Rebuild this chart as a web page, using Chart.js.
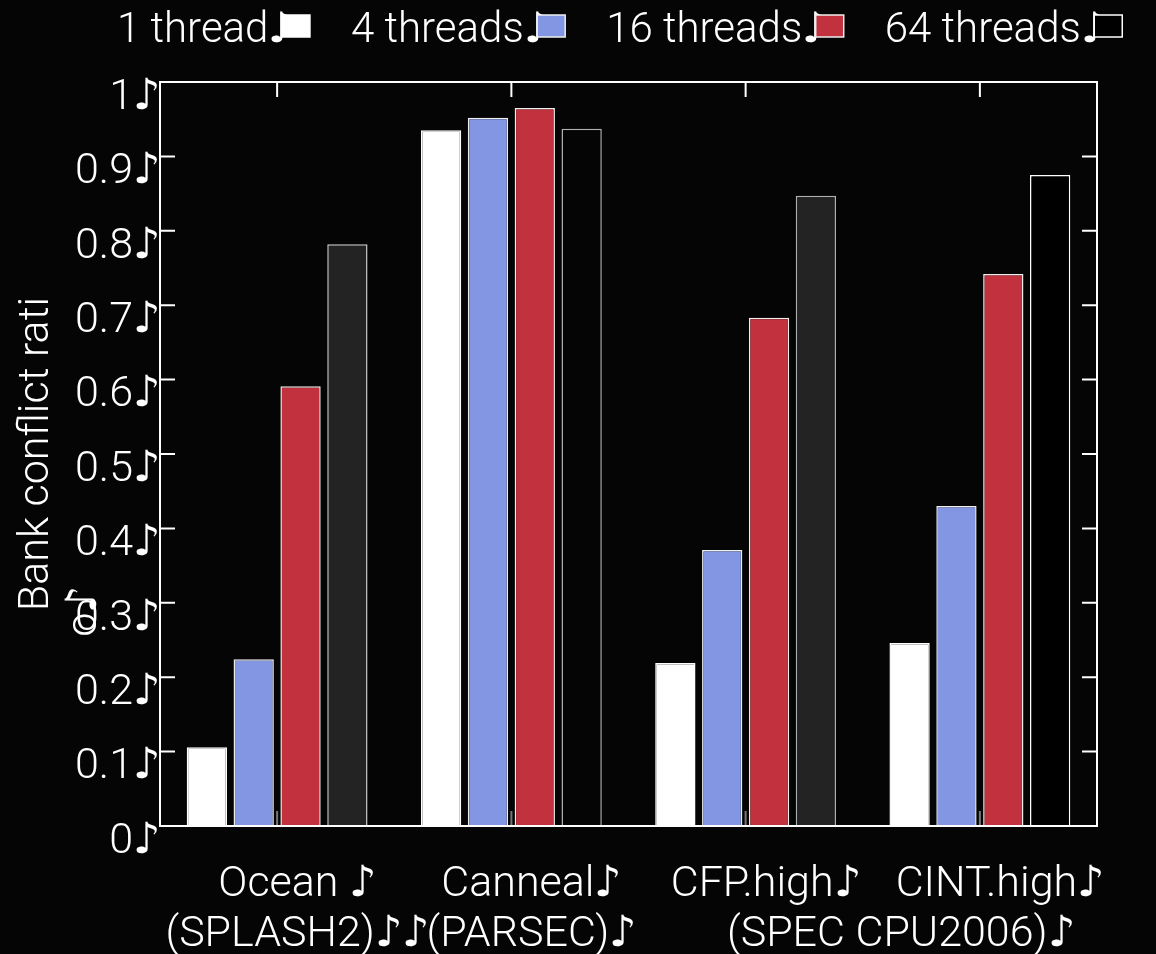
<!DOCTYPE html>
<html>
<head>
<meta charset="utf-8">
<script src="https://cdn.jsdelivr.net/npm/chart.js@4/dist/chart.umd.min.js"></script>
<style>
    @font-face {
        font-family: 'NoteGlyph';
        src: local('DejaVu Sans'), local('DejaVuSans');
        unicode-range: U+266A;
        font-weight: 100 900;
    }
    html, body { margin: 0; padding: 0; background: #050505; }
    #wrap { width: 1156px; height: 954px; }
</style>
</head>
<body>
<div id="wrap"><canvas id="chart" width="1156" height="954"></canvas></div>
<script>
const categories = [
    ['Ocean ♪', '(SPLASH2)♪♪'],
    ['Canneal♪', '(PARSEC)♪'],
    ['CFP.high♪', ''],
    ['CINT.high♪', '']
]
// second line shared by the two SPEC groups
const sharedLabel = '(SPEC CPU2006)♪'

const seriesNames = ['1 thread♪', '4 threads♪', '16 threads♪', '64 threads♪']
const thread1 = [0.106, 0.935, 0.219, 0.246]
const thread4 = [0.224, 0.952, 0.371, 0.430]
const thread16 = [0.591, 0.965, 0.683, 0.742]
const thread64 = [0.782, 0.937, 0.847, 0.875]

const yTickLabels = ['0♪', '0.1♪', '0.2♪', '0.3♪', '0.4♪', '0.5♪', '0.6♪', '0.7♪', '0.8♪', '0.9♪', '1♪']
const yTitle = ['Bank conflict rati', 'o♪' + ' '.repeat(30)]

const fam = "'NoteGlyph', 'Roboto', sans-serif"
const wt = 300
const fs = 43
const colors = ['#ffffff', '#8296e4', '#c1323e', '#000000']
const edges = ['#ffffff', '#eeeeee', '#eeeeee', '#ffffff']
const fill64 = ['#232323', '#050505', '#232323', '#000000']
const edge64 = ['#cccccc', '#b0b0b0', '#b0b0b0', '#ffffff']

// gnuplot style key: text first, sample box after it
const keyBox = {
    id: 'keyBox',
    afterDraw(chart) {
        const ctx = chart.ctx
        ctx.save()
        ctx.font = wt + ' 42px ' + fam
        ctx.textAlign = 'left'
        ctx.textBaseline = 'middle'
        const note = ctx.measureText('♪').width
        let x = 117
        chart.data.datasets.forEach((ds, i) => {
            ctx.fillStyle = '#ffffff'
            ctx.fillText(ds.label, x, 31)
            const bx = x + ctx.measureText(ds.label).width - note * 0.5
            ctx.fillStyle = colors[i]
            ctx.fillRect(bx, 15, 28, 22)
            ctx.strokeStyle = edges[i]
            ctx.lineWidth = 1.5
            ctx.strokeRect(bx, 15, 28, 22)
            x = bx + 28 + 41
        })
        ctx.restore()
    }
}

const frame = {
    id: 'frame',
    beforeDatasetsDraw(chart) {
        const {ctx, chartArea: a, scales: {x, y}} = chart
        ctx.save()
        ctx.lineWidth = 2
        ctx.strokeStyle = '#ffffff'
        ctx.beginPath()
        y.ticks.forEach(t => {
            const py = y.getPixelForValue(t.value)
            ctx.moveTo(a.left, py); ctx.lineTo(a.left + 15, py)
            ctx.moveTo(a.right - 15, py); ctx.lineTo(a.right, py)
        })
        categories.forEach((c, i) => {
            const px = x.getPixelForValue(i)
            ctx.moveTo(px, a.top); ctx.lineTo(px, a.top + 15)
        })
        ctx.stroke()
        ctx.strokeStyle = '#777777'
        ctx.beginPath()
        categories.forEach((c, i) => {
            const px = x.getPixelForValue(i)
            ctx.moveTo(px, a.bottom - 15); ctx.lineTo(px, a.bottom)
        })
        ctx.stroke()
        ctx.restore()
    },
    afterDatasetsDraw(chart) {
        const {ctx, chartArea: a, scales: {x}} = chart
        ctx.save()
        ctx.strokeStyle = '#ffffff'
        ctx.lineWidth = 2
        ctx.strokeRect(a.left, a.top, a.right - a.left, a.bottom - a.top)
        const mid = (x.getPixelForValue(2) + x.getPixelForValue(3)) / 2
        ctx.fillStyle = '#ffffff'
        ctx.font = wt + ' ' + fs + 'px ' + fam
        ctx.textAlign = 'center'
        ctx.textBaseline = 'middle'
        ctx.fillText(sharedLabel, mid + 38, a.bottom + 34 + 25 + 50)
        ctx.restore()
    }
}

const draw = () => new Chart(document.getElementById('chart'), {
    type: 'bar',
    data: {
        labels: categories,
        datasets: [
            {label: seriesNames[0], data: thread1, backgroundColor: colors[0], borderColor: edges[0], borderWidth: 1.5},
            {label: seriesNames[1], data: thread4, backgroundColor: colors[1], borderColor: edges[1], borderWidth: 1.5},
            {label: seriesNames[2], data: thread16, backgroundColor: colors[2], borderColor: edges[2], borderWidth: 1.5},
            {
                label: seriesNames[3], data: thread64,
                backgroundColor: c => fill64[c.dataIndex] || colors[3],
                borderColor: c => edge64[c.dataIndex] || edges[3],
                borderWidth: 1.5
            }
        ]
    },
    options: {
        responsive: false,
        animation: false,
        devicePixelRatio: 1,
        layout: {padding: {left: 0, right: 59, top: 82, bottom: 0}},
        datasets: {bar: {categoryPercentage: 0.8, barPercentage: 0.86, borderSkipped: 'start'}},
        plugins: {
            tooltip: {enabled: false},
            legend: {display: false}
        },
        scales: {
            x: {
                grid: {display: false, drawTicks: false},
                border: {display: false},
                ticks: {
                    color: '#ffffff',
                    font: {family: fam, size: fs, weight: wt, lineHeight: 1.16},
                    padding: 34,
                    labelOffset: 20,
                    maxRotation: 0,
                    autoSkip: false
                },
                afterFit: s => { s.height = 128 }
            },
            y: {
                min: 0,
                max: 1,
                grid: {display: false, drawTicks: false},
                border: {display: false},
                ticks: {
                    stepSize: 0.1,
                    color: '#ffffff',
                    font: {family: fam, size: fs, weight: wt},
                    padding: 0,
                    labelOffset: 16,
                    callback: (v, i) => yTickLabels[i]
                },
                title: {
                    display: true,
                    text: yTitle,
                    color: '#ffffff',
                    font: {family: fam, size: fs, weight: wt, lineHeight: 1.1},
                    padding: {top: 14, bottom: 0}
                },
                afterFit: s => { s.width = 160 }
            }
        }
    },
    plugins: [frame, keyBox]
})

document.fonts.load(wt + ' ' + fs + 'px ' + fam, 'a♪').then(draw, draw)
</script>
</body>
</html>
